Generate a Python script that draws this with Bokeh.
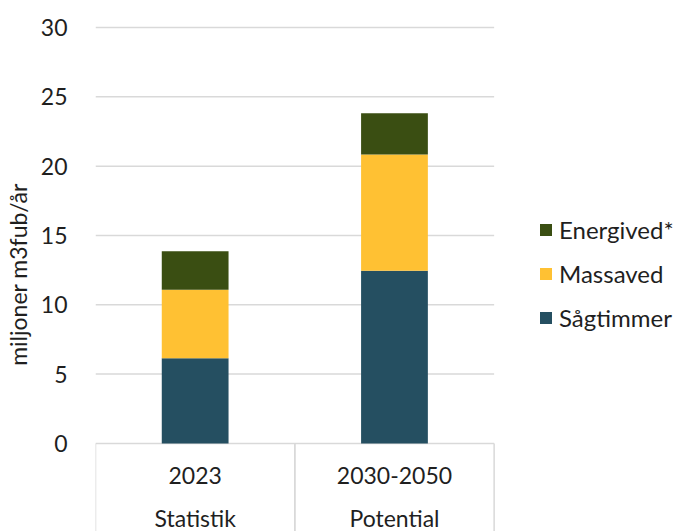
from bokeh.plotting import figure
from bokeh.models import ColumnDataSource, Range1d, FixedTicker, Legend, LegendItem
from bokeh.core.properties import value
from bokeh.embed import file_html
from bokeh.resources import INLINE

categories = ["2023", "2030-2050"]
groups = ["Statistik", "Potential"]
sagtimmer = [6.14, 12.45]
massaved = [4.94, 8.39]
energived = [2.78, 2.98]
series = ["Sågtimmer", "Massaved", "Energived*"]
colors = ["#254F61", "#FFC133", "#3A4E12"]
y_ticks = [0, 5, 10, 15, 20, 25, 30]

FONT = "Lato"
TXT = "#1f1f1f"
FS = "23px"

Y0, Y1 = -6.35, 30.72
n = len(categories)
xc = [i + 0.5 for i in range(n)]
xl = [i for i in range(n)]
xr = [i + 1 for i in range(n)]

src = ColumnDataSource(dict(cat=categories, grp=groups, x=xc, xl=xl, xr=xr, **{
    "Sågtimmer": sagtimmer, "Massaved": massaved, "Energived*": energived}))

p = figure(x_range=Range1d(0, 585 / 200), y_range=Range1d(Y0, Y1), width=678, height=531,
           output_backend="svg", toolbar_location=None, x_axis_location=None,
           min_border_left=93, min_border_right=0, min_border_top=17, min_border_bottom=0)
p.outline_line_color = None
p.xgrid.grid_line_color = None
p.ygrid.grid_line_color = None
p.background_fill_color = None
p.border_fill_color = "white"

ax = p.yaxis[0]
ax.ticker = FixedTicker(ticks=y_ticks)
ax.axis_line_color = None
ax.major_tick_line_color = None
ax.minor_tick_line_color = None
ax.major_label_text_font = FONT
ax.major_label_text_font_size = FS
ax.major_label_text_color = TXT
ax.major_label_standoff = 22
ax.axis_label = "miljoner m3fub/år"
ax.axis_label_text_font = FONT
ax.axis_label_text_font_size = FS
ax.axis_label_text_font_style = "normal"
ax.axis_label_text_color = TXT
ax.axis_label_standoff = 6

# horizontal gridlines limited to the category area
p.segment(x0=0, x1=n, y0=y_ticks, y1=y_ticks, line_color="#D9D9D9", line_width=1.5)

rs = p.vbar_stack(series, x="x", width=0.335, source=src, color=colors, line_color=None)

# category box lines
p.segment(x0="xl", x1="xl", y0=0, y1=Y0, source=src, line_color="#D9D9D9", line_width=1.5)
p.segment(x0="xr", x1="xr", y0=0, y1=Y0, source=src, line_color="#D9D9D9", line_width=1.5)

p.text(x="x", y=-2.31, text="cat", source=src, text_align="center", text_baseline="middle",
       text_font=value(FONT), text_font_size=FS, text_color=TXT)
p.text(x="x", y=-5.4, text="grp", source=src, text_align="center", text_baseline="middle",
       text_font=value(FONT), text_font_size=FS, text_color=TXT)

items = [LegendItem(label=s, renderers=[r]) for s, r in zip(series, rs)][::-1]
leg = Legend(items=items, location=(443, 199), orientation="vertical",
             padding=0, margin=0, border_line_color=None, background_fill_alpha=0,
             glyph_width=15, glyph_height=15, label_standoff=6, spacing=15,
             label_height=24, label_text_font=FONT, label_text_font_size="24px",
             label_text_color=TXT)
p.add_layout(leg, "center")

open("out.html", "w").write(file_html(p, INLINE))
